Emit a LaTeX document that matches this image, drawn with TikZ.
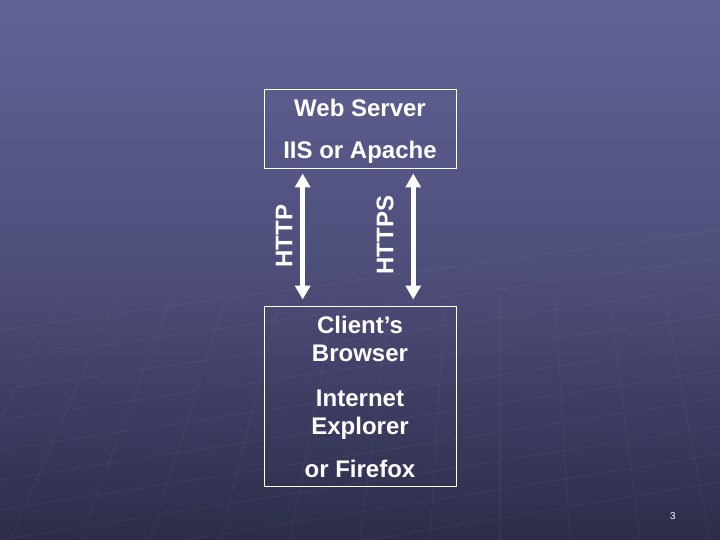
\documentclass[tikz,border=0pt]{standalone}
\usepackage{fontspec}
\setmainfont{Liberation Sans}
\usetikzlibrary{arrows.meta,calc}
\definecolor{bgtop}{RGB}{98,98,150}
\definecolor{bgmid}{RGB}{78,78,122}
\definecolor{bgbot}{RGB}{44,44,74}
\tikzset{
  box/.style={draw=white,line width=1pt,minimum width=192pt,inner sep=0pt},
  lbl/.style={text=white,font=\bfseries\fontsize{24}{28}\selectfont,align=center},
  proto/.style={text=white,font=\bfseries\fontsize{24}{28}\selectfont,rotate=90},
  dbl/.style={white,line width=5pt,{Triangle[width=15pt,length=14pt]}-{Triangle[width=15pt,length=14pt]},shorten <=4pt,shorten >=6pt}
}
\begin{document}
\begin{tikzpicture}[x=1pt,y=-1pt]
\useasboundingbox (0,0) rectangle (720,540);
\shade[top color=bgtop,bottom color=bgmid] (0,0) rectangle (720,270);
\shade[top color=bgmid,bottom color=bgbot] (0,270) rectangle (720,540);
% faint background grid texture
\begin{scope}[white,opacity=0.035,line width=1.2pt]
\foreach \i in {0,...,9}{
  \draw (0,{330+\i*30}) -- (720,{230+\i*28});
}
\foreach \i in {0,...,12}{
  \draw ({\i*70-60},540) -- ({\i*55+60},300);
}
\end{scope}
\node[box,minimum height=79pt] (ws) at (360,129.5) {};
\node[lbl] (ws1) at (360,108) {Web Server};
\node[lbl] (ws2) at (360,152) {IIS or Apache};
\node[box,minimum height=180pt] (cl) at (360,396) {};
\node[lbl] (c1) at (360,339) {Client’s\\Browser};
\node[lbl] (c2) at (360,415) {Internet\\Explorer};
\node[lbl] (c3) at (360,469) {or Firefox};
\coordinate (a1t) at ($(ws.south west)!0.203!(ws.south east)$);
\coordinate (a1b) at ($(cl.north west)!0.203!(cl.north east)$);
\coordinate (a2t) at ($(ws.south west)!0.776!(ws.south east)$);
\coordinate (a2b) at ($(cl.north west)!0.776!(cl.north east)$);
\draw[dbl] (a1t) -- (a1b);
\draw[dbl] (a2t) -- (a2b);
\node[proto] (http) at (284,236) {HTTP};
\node[proto] (https) at (385,235) {HTTPS};
\node[text=white,font=\fontsize{10}{12}\selectfont] (pg) at (673,516) {3};
\end{tikzpicture}
\end{document}
